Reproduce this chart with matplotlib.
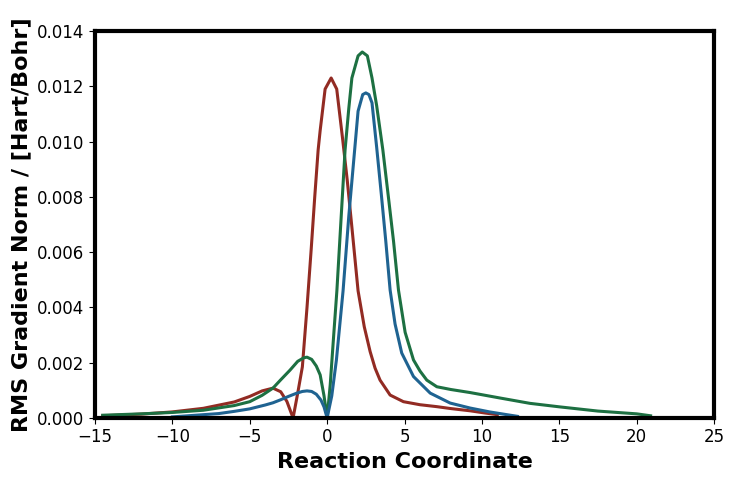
import numpy as np
import matplotlib.pyplot as plt

# red curve
red_x = [-14.5, -12, -10, -8, -6, -5, -4.2, -3.5, -3.0, -2.6, -2.2, -1.9, -1.6, -1.3,
         -1.03, -0.8, -0.58, -0.45, -0.13, 0.26, 0.62, 1.0, 1.3, 1.6, 2.0, 2.4, 2.78,
         3.1, 3.42, 4.07, 4.93, 6.0, 7.09, 8.0, 9.24, 10.2, 11.0]
red_y = [0.00008, 0.00014, 0.00022, 0.00035, 0.00058, 0.00078, 0.00098, 0.00108, 0.00095,
         0.0006, 0.0, 0.0009, 0.00185, 0.0040, 0.0061, 0.0080, 0.0097, 0.0104, 0.0119,
         0.0123, 0.0119, 0.0101, 0.0086, 0.0069, 0.0046, 0.0033, 0.0024, 0.0018, 0.00137,
         0.00083, 0.00059, 0.00048, 0.00041, 0.00034, 0.00026, 0.00018, 0.00012]

# green curve
green_x = [-14.5, -12, -10, -8, -6, -5, -4.2, -3.5, -3.0, -2.4, -1.9, -1.5, -1.3, -1.0,
           -0.7, -0.45, -0.2, 0.0, 0.2, 0.4, 0.63, 0.9, 1.16, 1.4, 1.6, 2.0, 2.27, 2.6,
           2.9, 3.2, 3.6, 4.0, 4.29, 4.61, 5.04, 5.58, 6.0, 6.44, 7.09, 8.0, 9.24, 11.2,
           13.1, 15.06, 17.5, 20.0, 20.9]
green_y = [0.0001, 0.00015, 0.0002, 0.00028, 0.00045, 0.00059, 0.00082, 0.00108, 0.00138,
           0.00173, 0.00205, 0.00218, 0.0022, 0.00212, 0.00188, 0.00156, 0.0008, 0.0,
           0.0012, 0.0028, 0.0046, 0.0072, 0.0097, 0.0112, 0.0123, 0.0131, 0.01324, 0.0131,
           0.0123, 0.0113, 0.0097, 0.0078, 0.0064, 0.00463, 0.0031, 0.0021, 0.0017,
           0.00137, 0.00113, 0.00103, 0.00092, 0.00072, 0.00053, 0.0004, 0.00025, 0.00015,
           0.00008]

# blue curve
blue_x = [-10, -8.5, -7, -6, -5, -4, -3.5, -3.0, -2.5, -2.0, -1.6, -1.3, -1.0, -0.7, -0.4,
          -0.2, 0.0, 0.3, 0.6, 1.03, 1.4, 1.7, 2.0, 2.3, 2.5, 2.7, 2.9, 3.2, 3.5, 3.79,
          4.07, 4.39, 4.82, 5.58, 6.66, 7.95, 9.24, 10.5, 11.5, 12.3]
blue_y = [0.00004, 0.0001, 0.00016, 0.00024, 0.00033, 0.00047, 0.00055, 0.00066, 0.00078,
          0.00089, 0.00096, 0.00098, 0.00096, 0.00086, 0.00065, 0.0004, 0.0, 0.0008,
          0.0021, 0.0046, 0.0073, 0.0092, 0.0111, 0.0117, 0.01176, 0.0117, 0.0114, 0.0098,
          0.0081, 0.0064, 0.00463, 0.0034, 0.00235, 0.0015, 0.0009, 0.00054, 0.00036,
          0.00022, 0.00013, 0.00006]

fig = plt.figure(figsize=(7.34, 4.82), dpi=100)
ax = fig.add_axes([0.1294, 0.1328, 0.8434, 0.8029])

ax.plot(red_x, red_y, color="#922b23", lw=2.2)
ax.plot(green_x, green_y, color="#1d7042", lw=2.2)
ax.plot(blue_x, blue_y, color="#1f6391", lw=2.2)

ax.set_xlim(-15, 25)
ax.set_ylim(0, 0.014)
ax.set_yticks(np.arange(0, 0.0141, 0.002))
ax.yaxis.set_major_formatter(plt.FormatStrFormatter("%.3f"))

for s in ax.spines.values():
    s.set_linewidth(3)
ax.tick_params(labelsize=12, direction="out", length=4, top=False, right=False)

ax.set_xlabel("Reaction Coordinate", fontsize=16, fontweight="bold")
ax.set_ylabel("RMS Gradient Norm / [Hart/Bohr]", fontsize=16, fontweight="bold")

fig.savefig("out.png")
